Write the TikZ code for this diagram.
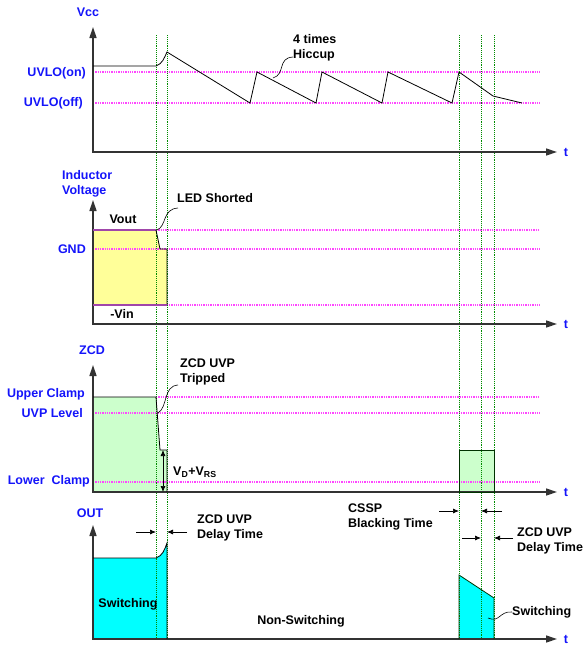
\documentclass[tikz,border=0pt]{standalone}
\usepackage{fontspec}
\setmainfont{Liberation Sans}
\usetikzlibrary{arrows.meta}

\definecolor{labblue}{RGB}{20,20,250}
\definecolor{lvlpink}{RGB}{255,70,255}
\definecolor{tgreen}{RGB}{0,140,0}
\definecolor{indyellow}{RGB}{255,255,153}
\definecolor{zcdgreen}{RGB}{204,255,204}
\definecolor{outcyan}{RGB}{0,255,255}
\definecolor{edgepurple}{RGB}{160,70,170}

\begin{document}
\begin{tikzpicture}[x=1pt, y=-1pt, >=Latex,
  every node/.style={font=\bfseries\fontsize{12.5}{15}\selectfont, inner sep=0pt},
  lab/.style={labblue},
  axes/.style={{Triangle[length=11pt,width=7pt]}-{Triangle[length=11pt,width=7pt]}, line width=1.4pt, black!80},
  lvl/.style={lvlpink, densely dotted, line width=1.3pt},
  tline/.style={tgreen, densely dotted, line width=0.9pt},
  wave/.style={black, line width=0.8pt},
  lead/.style={black, line width=0.6pt},
  gap/.style={-{Latex[length=6pt,width=5pt]}, line width=0.7pt}]
  \useasboundingbox (0,0) rectangle (585,646);

  % filled regions
  \fill[indyellow] (93,230) -- (156,230) -- (160,249) -- (167,249) -- (167,305) -- (93,305) -- cycle;
  \fill[zcdgreen] (93,397) -- (156,397) -- (160,450) -- (167,450) -- (167,492) -- (93,492) -- cycle;
  \fill[zcdgreen] (459,450) rectangle (494,492);
  \fill[outcyan] (93,558) -- (156,558) to[out=20,in=-110] (167,543) -- (167,639) -- (93,639) -- cycle;
  \fill[outcyan] (459,575) -- (494,598) -- (494,639) -- (459,639) -- cycle;

  % levels
  \draw[lvl] (93,72) -- (540,72);
  \draw[lvl] (93,103) -- (540,103);
  \draw[lvl] (156,230) -- (540,230);
  \draw[lvl] (93,249) -- (540,249);
  \draw[lvl] (93,305) -- (540,305);
  \draw[lvl] (156,397) -- (540,397);
  \draw[lvl] (93,413) -- (540,413);
  \draw[lvl] (93,482) -- (540,482);

  % timing marks
  \foreach \xt in {156,167,459,481,494}
    \draw[tline] (\xt,35) -- (\xt,639);

  % axes
  \foreach \yb/\yt [count=\i] in {152/27, 324/200, 492/365, 639/525} {
    \draw[axes] (93,\yt) -- (93,\yb) -- (557,\yb);
    \node[lab] (t\i) at (566,\yb) {t};
  }

  % Vcc
  \node[lab] (vcc) at (88,12) {Vcc};
  \node[lab, anchor=east] (uvlon) at (86,73) {UVLO(on)};
  \node[lab, anchor=east] (uvloff) at (83,103) {UVLO(off)};
  \draw[wave] (93,66) -- (156,66) to[out=20,in=-115] (167,52) -- (250,103) -- (257,72)
    -- (316,103) -- (322,72) -- (382,103) -- (388,72) -- (452,103) -- (459,72)
    -- (493,96) -- (522,103);
  \node[align=left, anchor=west] (hic) at (293,48) {4 times\\Hiccup};
  \coordinate (hicfoot) at (273,78);
  \coordinate (hicend) at (293,57);
  \draw[lead] (hicfoot) .. controls (286,74) and (277,58) .. (hicend);

  % inductor voltage
  \node[lab, align=left, anchor=west] (indv) at (62,184) {Inductor\\Voltage};
  \node (vout) at (123,219) {Vout};
  \node[lab, anchor=east] (gnd) at (86,249) {GND};
  \node (vin) at (122,314) {-Vin};
  \draw[edgepurple, line width=1.2pt] (93,230) -- (156,230);
  \draw[wave] (156,230) -- (160,249) -- (167,249) -- (167,305);
  \draw[edgepurple, line width=1.2pt] (167,305) -- (93,305);
  \node[anchor=west] (led) at (177,198) {LED Shorted};
  \coordinate (ledfoot) at (157,230);
  \coordinate (ledend) at (178,208);
  \draw[lead] (ledfoot) .. controls (167,226) and (162,209) .. (ledend);

  % ZCD
  \node[lab] (zcd) at (92,350) {ZCD};
  \node[lab, anchor=east] (upc) at (85,394) {Upper Clamp};
  \node[lab, anchor=east] (uvp) at (83,413) {UVP Level};
  \node[lab, anchor=east] (loc) at (90,481) {Lower\ \ Clamp};
  \draw[wave] (93,397) -- (156,397) -- (160,450) -- (167,450) -- (167,492);
  \draw[wave, draw=black!80!green] (459,450) rectangle (494,492);
  \node[align=left, anchor=west] (trip) at (180,372) {ZCD UVP\\Tripped};
  \coordinate (tripfoot) at (158,413);
  \coordinate (tripend) at (178,385);
  \draw[lead] (tripfoot) .. controls (168,407) and (163,386) .. (tripend);
  \coordinate (vdtop) at (163,450);
  \coordinate (vdbot) at (163,492);
  \draw[{Latex[length=6pt,width=5pt]}-{Latex[length=6pt,width=5pt]}, line width=0.7pt] (vdtop) -- (vdbot);
  \node[anchor=west] (vdrs) at (173,472) {V\textsubscript{D}+V\textsubscript{RS}};

  % OUT
  \node[lab] (out) at (90,513) {OUT};
  \draw[wave] (93,558) -- (156,558) to[out=20,in=-110] (167,543) -- (167,639);
  \draw[wave, draw=black!80!green] (459,639) -- (459,575) -- (494,598) -- (494,639);
  \node (sw1) at (128,604) {Switching};
  \node (nsw) at (301,621) {Non-Switching};
  \draw[gap] (136,532) -- (156,532);
  \draw[gap] (187,532) -- (167,532);
  \node[align=left, anchor=west] (dly1) at (197,528) {ZCD UVP\\Delay Time};
  \draw[gap] (439,511) -- (459,511);
  \draw[gap] (502,511) -- (481,511);
  \node[align=left, anchor=west] (cssp) at (348,517) {CSSP\\Blacking Time};
  \draw[gap] (462,538) -- (481,538);
  \draw[gap] (513,538) -- (494,538);
  \node[align=left, anchor=west] (dly2) at (517,541) {ZCD UVP\\Delay Time};
  \node[anchor=west] (sw2) at (512,612) {Switching};
  \coordinate (swfoot) at (488,618);
  \draw[lead] (swfoot) .. controls (500,623) and (499,611) .. (sw2.west);
\end{tikzpicture}
\end{document}
